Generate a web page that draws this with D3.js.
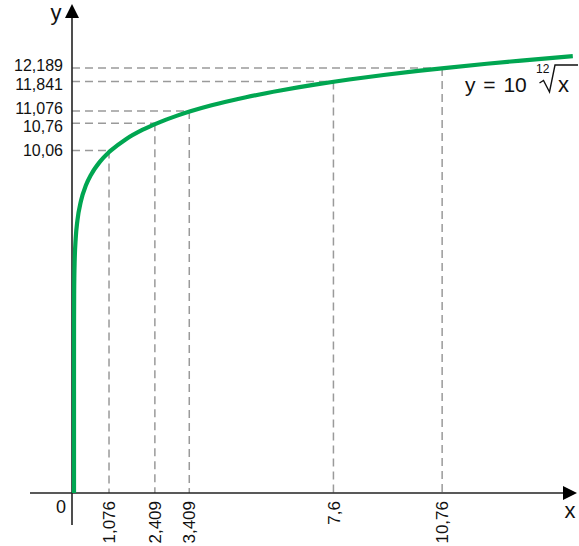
<!DOCTYPE html>
<html>
<head>
<meta charset="utf-8">
<script src="https://cdn.jsdelivr.net/npm/d3@7"></script>
<style>
  html, body { margin: 0; padding: 0; background: #fff; }
  svg { display: block; font-family: "Liberation Sans", Arial, sans-serif; }
</style>
</head>
<body>
<svg id="chart" width="579" height="546"></svg>
<script>
// ---- data ----
const curveX = [0, 1e-9, 1e-7, 1e-5, 1e-4, 0.001, 0.005, 0.01, 0.02, 0.05, 0.1, 0.2, 0.35, 0.5, 0.75,
                1, 1.076, 1.5, 2, 2.409, 3, 3.409, 4, 5, 6, 7, 7.6, 8, 9, 10, 10.76, 12, 13, 14, 14.5];
const curveY = [0, 1.778, 2.610, 3.831, 4.642, 5.623, 6.431, 6.813, 7.218, 7.791, 8.254, 8.745, 9.162, 9.439, 9.763,
                10, 10.06, 10.344, 10.595, 10.76, 10.959, 11.076, 11.225, 11.435, 11.610, 11.761, 11.841, 11.892, 12.009, 12.115, 12.189, 12.301, 12.383, 12.460, 12.496];
const markX = [1.076, 2.409, 3.409, 7.6, 10.76];
const markY = [10.06, 10.76, 11.076, 11.841, 12.189];
const xTickLabels = ["1,076", "2,409", "3,409", "7,6", "10,76"];
const yTickLabels = ["10,06", "10,76", "11,076", "11,841", "12,189"];
const formulaText = "y = 10";
const formulaIndex = "12";
const formulaRadicand = "x";

// ---- layout ----
const svg = d3.select("#chart");
const originX = 72, axisY = 493;
const x = d3.scaleLinear().domain([0, 1]).range([originX, originX + 34.4]);
const y = d3.scaleLinear().domain([10, 11]).range([539.4 - 38.67 * 10, 539.4 - 38.67 * 11]);

const green = "#00a651";
const dashColor = "#9a9a9a";
const axisColor = "#222";

svg.append("defs").append("clipPath").attr("id", "clip")
  .append("rect").attr("x", 0).attr("y", 0).attr("width", 579).attr("height", axisY);

// dashed guide lines
const guides = svg.append("g")
  .attr("stroke", dashColor).attr("stroke-width", 1.5)
  .attr("stroke-dasharray", "8,5").attr("fill", "none");
markX.forEach((xv, i) => {
  const px = x(xv), py = y(markY[i]);
  guides.append("line").attr("x1", originX).attr("x2", px).attr("y1", py).attr("y2", py);
  guides.append("line").attr("x1", px).attr("x2", px).attr("y1", py).attr("y2", axisY);
});

// axes
const axes = svg.append("g").attr("stroke", axisColor).attr("stroke-width", 1.6);
axes.append("line").attr("x1", 30).attr("x2", 565).attr("y1", axisY).attr("y2", axisY);
axes.append("line").attr("x1", originX).attr("x2", originX).attr("y1", 525).attr("y2", 16);
svg.append("path").attr("fill", "#000")
  .attr("d", `M${originX},4 L${originX - 7},18 L${originX + 7},18 Z`);
svg.append("path").attr("fill", "#000")
  .attr("d", `M577,${axisY} L563,${axisY - 7} L563,${axisY + 7} Z`);

// curve
const pts = curveX.map((d, i) => [d, curveY[i]]);
svg.append("path")
  .attr("clip-path", "url(#clip)")
  .attr("d", d3.line().x(d => x(d[0]) + 2).y(d => y(d[1])).curve(d3.curveMonotoneX)(pts))
  .attr("fill", "none").attr("stroke", green).attr("stroke-width", 4.2);

// y tick labels with small collision-avoiding nudge
const minGap = 18.5;
const ly = markY.map(v => y(v));           // ordered bottom -> top (descending pixel)
for (let it = 0; it < 50; it++) {
  for (let i = 0; i < ly.length - 1; i++) {
    const gap = ly[i] - ly[i + 1];
    if (gap < minGap) {
      const d = (minGap - gap) / 2;
      ly[i] += d; ly[i + 1] -= d;
    }
  }
}
svg.append("g").selectAll("text").data(markY).join("text")
  .attr("x", 63).attr("y", (d, i) => ly[i]).attr("dy", "0.36em")
  .attr("text-anchor", "end").attr("font-size", 16).attr("fill", "#111")
  .text((d, i) => yTickLabels[i]);

// x tick labels (rotated)
svg.append("g").selectAll("text").data(markX).join("text")
  .attr("transform", d => `translate(${x(d)},501) rotate(-90)`)
  .attr("dy", "0.36em")
  .attr("text-anchor", "end").attr("font-size", 17).attr("fill", "#111")
  .text((d, i) => xTickLabels[i]);

// origin and axis names
svg.append("text").attr("x", 61).attr("y", 513).attr("text-anchor", "middle")
  .attr("font-size", 18).attr("fill", "#111").text("0");
svg.append("text").attr("x", 56).attr("y", 20).attr("text-anchor", "middle")
  .attr("font-size", 22).attr("fill", "#111").text("y");
svg.append("text").attr("x", 570).attr("y", 518).attr("text-anchor", "middle")
  .attr("font-size", 22).attr("fill", "#111").text("x");

// formula  y = 10 ¹²√x
const f = svg.append("g").attr("fill", "#111");
f.append("text").attr("x", 465).attr("y", 92).attr("font-size", 21).attr("word-spacing", 2).text(formulaText);
f.append("text").attr("x", 536).attr("y", 73).attr("font-size", 12).text(formulaIndex);
f.append("path").attr("fill", "none").attr("stroke", "#111").attr("stroke-width", 1.4)
  .attr("stroke-linejoin", "miter")
  .attr("d", "M539.5,83 L543.5,80.5 L549.5,92 L555,65 L578,65");
f.append("text").attr("x", 558).attr("y", 92).attr("font-size", 22).text(formulaRadicand);
</script>
</body>
</html>
